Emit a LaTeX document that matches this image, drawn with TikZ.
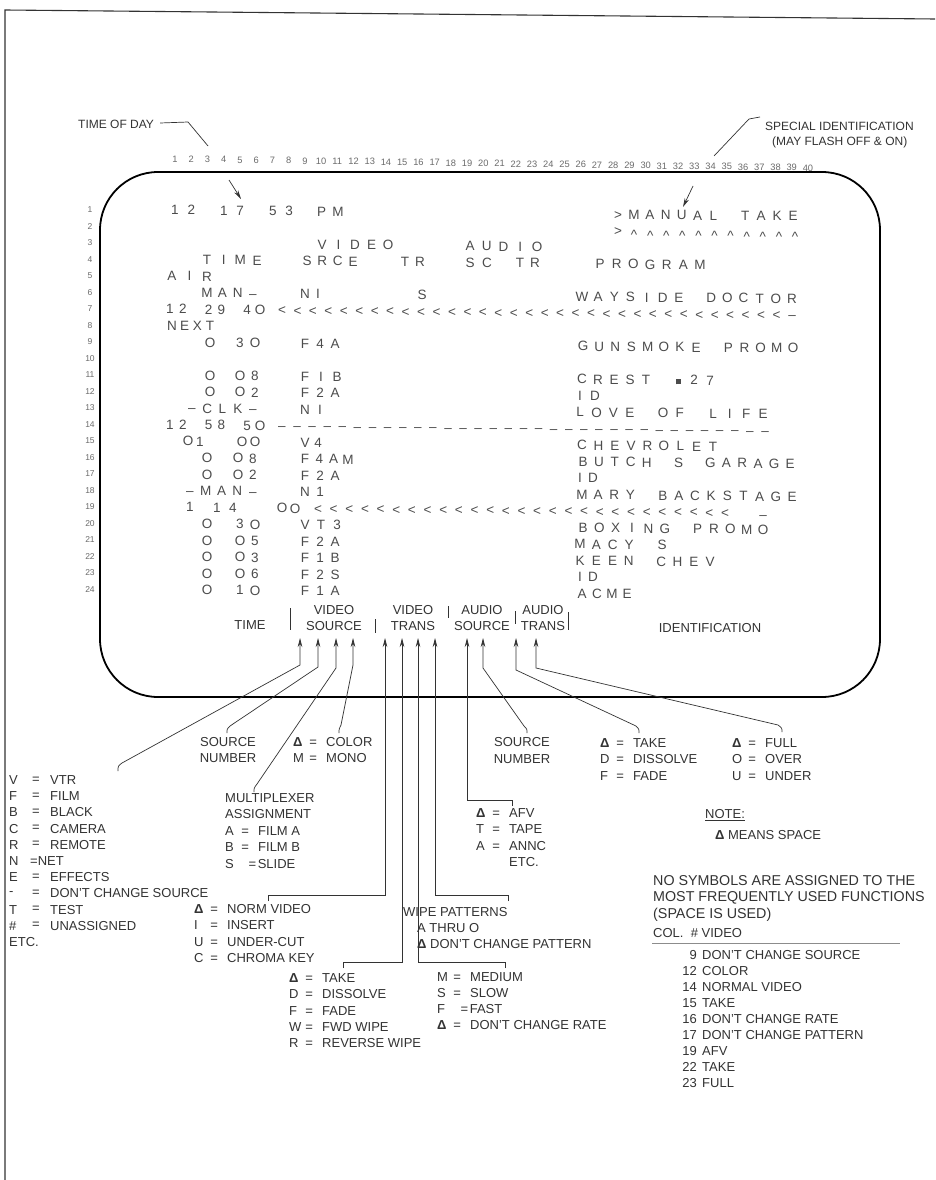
\documentclass[tikz,border=0pt]{standalone}
\usepackage{fontspec}
\setmainfont{Liberation Sans}
\usetikzlibrary{arrows.meta}
\definecolor{ink}{gray}{0.2}
\definecolor{scrink}{gray}{0.3}
\definecolor{numink}{gray}{0.42}

\ExplSyntaxOn
\fp_new:N \l__scr_step_fp
\int_new:N \l__scr_n_int
\int_new:N \l__scr_i_int
\NewDocumentCommand \scr { m m m m }
  {
    \int_set:Nn \l__scr_n_int { \tl_count:n {#4} }
    \int_compare:nNnTF { \l__scr_n_int } > { 1 }
      { \fp_set:Nn \l__scr_step_fp { (#3 - #2) / (\l__scr_n_int - 1) } }
      { \fp_set:Nn \l__scr_step_fp { 0 } }
    \int_zero:N \l__scr_i_int
    \tl_map_inline:nn {#4}
      {
        \str_if_eq:nnF {##1} { _ }
          {
            \use:e
              {
                \exp_not:N \scrglyph
                  { \fp_eval:n { round( #2 + \l__scr_step_fp * \l__scr_i_int , 2) } }
                  { #1 }
                  { \exp_not:n {##1} }
              }
          }
        \int_incr:N \l__scr_i_int
      }
  }
\NewDocumentCommand \scrsym { m }
  {
    \str_case:nnF {#1}
      {
        { * } { \raisebox{-4pt}{\textasciicircum} }
        { @ } { \raisebox{0.5pt}{\rule{5pt}{5pt}} }
        { ! } { \raisebox{-2pt}{\textendash} }
        { - } { \textendash }
      }
      {#1}
  }
\ExplSyntaxOff

\newcommand\scrglyph[3]{\node[scr] at ({#1},{210+16.5*(#2-1)+4.8+0.01*(#1-175)}) {\scrsym{#3}};}
\newcommand\Dlt{\textbf{Δ}}
\newcommand\kv[2]{\makebox[13.5pt][l]{#1}\makebox[13pt][c]{=}\hspace{6.5pt}#2}
\newcommand\kvt[2]{\makebox[13.5pt][l]{#1}\hspace{10pt}=\hspace{1.5pt}#2}

\begin{document}
\begin{tikzpicture}[x=1pt,y=-1pt,
  lbl/.style={font=\fontsize{13}{16.5}\selectfont, text=ink, inner sep=0pt},
  list/.style={lbl, align=left, anchor=north west, font=\fontsize{13}{16.3}\selectfont},
  scr/.style={font=\fontsize{13.5}{16}\selectfont, text=scrink, inner sep=0pt, anchor=base},
  num/.style={font=\fontsize{9.3}{11}\selectfont, text=numink, inner sep=0pt},
  lead/.style={draw=ink, line width=0.7pt},
  arr/.style={lead, -{Stealth[length=9pt,width=4.5pt]}},
  sep/.style={draw=ink, line width=0.7pt},
  small/.style={font=\fontsize{12}{14}\selectfont, text=ink, inner sep=0pt}]
\useasboundingbox (0,0) rectangle (935,1180);
\fill[white] (0,0) rectangle (935,1180);

% outer frame
\draw[line width=1.1pt, black!80] (5,1180) -- (5,10) -- (935,19);

% screen
\node[draw=black, line width=1.8pt, rounded corners=58pt, minimum width=780pt, minimum height=525pt, inner sep=0pt] (screen) at (490,434.5) {};

% column numbers and row numbers
\foreach \n in {1,...,40}
  \node[num] (c\n) at ({175+16.23*(\n-1)},{159+0.014*16.23*(\n-1)}) {\n};
\foreach \r in {1,...,24}
  \node[num, font=\fontsize{8.5}{10}\selectfont] (r\r) at (90,{210+16.5*(\r-1)}) {\r};

% top labels
\node[small, anchor=west] (tod) at (78,124) {TIME OF DAY};
\coordinate (todA) at (188,122);
\coordinate (todB) at (208,146);
\draw[lead] (tod.east) ++(6,-1) -- (todA) -- (todB);
\coordinate (todC) at (229,180);
\coordinate (todD) at (241,199);
\draw[arr] (todC) -- (todD);

\node[small, anchor=west] (sid) at (765,126) {SPECIAL IDENTIFICATION};
\node[small, anchor=west] (sid2) at (772,142) {(MAY FLASH OFF \& ON)};
\coordinate (sidA) at (760,117);
\coordinate (sidB) at (749,119);
\coordinate (sidC) at (714,156);
\draw[lead] (sidA) -- (sidB) -- (sidC);
\coordinate (sidD) at (693,186);
\coordinate (sidE) at (683,207);
\draw[arr] (sidD) -- (sidE);

% screen text
\scr{1}{175}{338}{12_17_53_PM}
\scr{1}{618}{793}{>MANUAL_TAKE}
\scr{2}{618}{795}{>***********}
\scr{3}{322}{388}{VIDEO}
\scr{3}{470}{537}{AUDIO}
\scr{4}{207}{257}{TIME}
\scr{4}{307}{353}{SRCE}
\scr{4}{405}{420}{TR}
\scr{4}{470}{487}{SC}
\scr{4}{520}{535}{TR}
\scr{4}{600}{700}{PROGRAM}
\scr{5}{172}{207}{AIR}
\scr{6}{207}{253}{MAN-}
\scr{6}{305}{318}{NI}
\scr{6}{422}{422}{S}
\scr{6}{582}{792}{WAYSIDE_DOCTOR}
\scr{7}{170}{260}{12_29_4O}
\scr{7}{282}{792}{<<<<<<<<<<<<<<<<<<<<<<<<<<<<<<<<<-}
\scr{8}{172}{210}{NEXT}
\scr{9}{210}{210}{O}
\scr{9}{240}{255}{3O}
\scr{9}{305}{335}{F4A}
\scr{9}{583}{793}{GUNSMOKE_PROMO}
\scr{11}{210}{210}{O}
\scr{11}{240}{255}{O8}
\scr{11}{305}{337}{FIB}
\scr{11}{582}{710}{CREST_@27}
\scr{12}{210}{210}{O}
\scr{12}{240}{255}{O2}
\scr{12}{305}{335}{F2A}
\scr{12}{580}{595}{ID}
\scr{13}{192}{253}{-CLK-}
\scr{13}{305}{320}{NI}
\scr{13}{580}{763}{LOVE_OF_LIFE}
\scr{14}{170}{260}{12_58_5O}
\scr{14}{282}{765}{---------------------------------}
\scr{15}{188}{200}{O1}
\scr{15}{242}{255}{OO}
\scr{15}{305}{318}{V4}
\scr{15}{582}{713}{CHEVROLET}
\scr{16}{207}{207}{O}
\scr{16}{238}{253}{O8}
\scr{16}{305}{348}{F4AM}
\scr{16}{583}{790}{BUTCH_S_GARAGE}
\scr{17}{207}{207}{O}
\scr{17}{238}{253}{O2}
\scr{17}{305}{335}{F2A}
\scr{17}{580}{593}{ID}
\scr{18}{190}{253}{-MAN-}
\scr{18}{305}{320}{N1}
\scr{18}{582}{792}{MARY_BACKSTAGE}
\scr{19}{190}{190}{1}
\scr{19}{217}{233}{14}
\scr{19}{282}{295}{OO}
\scr{19}{318}{725}{<<<<<<<<<<<<<<<<<<<<<<<<<<<}
\scr{19}{763}{763}{!}
\scr{20}{207}{207}{O}
\scr{20}{240}{255}{3O}
\scr{20}{305}{337}{VT3}
\scr{20}{583}{763}{BOXING_PROMO}
\scr{21}{207}{207}{O}
\scr{21}{240}{255}{O5}
\scr{21}{305}{335}{F2A}
\scr{21}{580}{662}{MACY_S}
\scr{22}{207}{207}{O}
\scr{22}{240}{255}{O3}
\scr{22}{305}{335}{F1B}
\scr{22}{580}{710}{KEEN_CHEV}
\scr{23}{207}{207}{O}
\scr{23}{240}{255}{O6}
\scr{23}{305}{335}{F2S}
\scr{23}{580}{593}{ID}
\scr{24}{207}{207}{O}
\scr{24}{240}{255}{1O}
\scr{24}{305}{335}{F1A}
\scr{24}{582}{627}{ACME}

% column headers inside the screen
\node[lbl] (hTime) at (250,625) {TIME};
\node[lbl, align=center] (hVS) at (334,618) {VIDEO\\SOURCE};
\node[lbl, align=center] (hVT) at (413,618) {VIDEO\\TRANS};
\node[lbl, align=center] (hAS) at (482,618) {AUDIO\\SOURCE};
\node[lbl, align=center] (hAT) at (543,618) {AUDIO\\TRANS};
\node[lbl] (hId) at (710,628) {IDENTIFICATION};
\draw[sep] (290,608) -- (290,630);
\draw[sep] (375,619) -- (375,633);
\draw[sep] (448,606) -- (448,618);
\draw[sep] (515,611) -- (515,624);
\draw[sep] (568,612) -- (568,630);

% arrow tips
\coordinate (t1) at (300,638);
\coordinate (t2) at (318,638);
\coordinate (t3) at (336,638);
\coordinate (t4) at (353,638);
\coordinate (t5) at (385,638);
\coordinate (t6) at (402,638);
\coordinate (t7) at (418,638);
\coordinate (t8) at (435,638);
\coordinate (t9) at (467,638);
\coordinate (t10) at (483,638);
\coordinate (t11) at (516,638);
\coordinate (t12) at (536,638);
% free ends
\coordinate (h1) at (118,771);
\coordinate (h2) at (227,733);
\coordinate (h3) at (254,792);
\coordinate (h4) at (339,733);
\coordinate (h5) at (268,901);
\coordinate (h6) at (343,968);
\coordinate (h7) at (505,968);
\coordinate (h8) at (508,901);
\coordinate (h9) at (512,806);
\coordinate (h10) at (527,733);
\coordinate (h11) at (639,733);
\coordinate (h12) at (782,732);

\draw[arr] (h1) .. controls (118,766) .. (122,763) -- (300,665) -- (t1);
\draw[arr] (h2) .. controls (227,729) .. (230,726) -- (318,667) -- (t2);
\draw[arr] (h3) .. controls (254,788) .. (257,784) -- (336,668) -- (t3);
\draw[arr] (h4) .. controls (339,729) .. (341,725) -- (353,665) -- (t4);
\draw[arr] (h5) -- (268,895) -- (385,895) -- (t5);
\draw[arr] (h6) -- (343,962) -- (402,962) -- (t6);
\draw[arr] (h7) -- (505,962) -- (418,962) -- (t7);
\draw[arr] (h8) -- (508,895) -- (435,895) -- (t8);
\draw[arr] (h9) -- (512,800) -- (467,800) -- (t9);
\draw[arr] (h10) .. controls (527,729) .. (524,726) -- (483,668) -- (t10);
\draw[arr] (h11) .. controls (639,729) .. (636,726) -- (516,670) -- (t11);
\draw[arr] (h12) .. controls (782,728) .. (778,725) -- (536,668) -- (t12);

% legends
\node[lbl, align=center] (srcnum1) at (228,750) {SOURCE\\NUMBER};
\node[list] (colr) at (293,737.3) {\kv{\Dlt}{COLOR}\\\kv{M}{MONO}};
\node[list, font=\fontsize{13}{16.5}\selectfont] (mux) at (225,793.3) {MULTIPLEXER\\ASSIGNMENT\\\kv{A}{FILM A}\\\kv{B}{FILM B}\\\kvt{S}{SLIDE}};

\foreach \s/\w [count=\i] in {V/VTR, F/FILM, B/BLACK, C/CAMERA, R/REMOTE, E/EFFECTS, -/DON'T CHANGE SOURCE, T/TEST, \#/UNASSIGNED} {
  \pgfmathsetmacro\yy{780+16.2*(\i-1)+(\i>5?16.2:0)}
  \node[lbl, anchor=west] (ls\i) at (9,\yy) {\s};
  \node[lbl] (le\i) at (36,\yy) {=};
  \node[lbl, anchor=west] (lw\i) at (50,\yy) {\w};
}
\node[lbl, anchor=west] (lsN) at (9,861) {N};
\node[lbl, anchor=west] (lwN) at (30,861) {=NET};
\node[lbl, anchor=west] (letc) at (9,942) {ETC.};

\node[list] (keyl) at (194,904.3) {\kv{\Dlt}{NORM VIDEO}\\\kv{I}{INSERT}\\\kv{U}{UNDER-CUT}\\\kv{C}{CHROMA KEY}};
\node[list] (tranl) at (289,973.3) {\kv{\Dlt}{TAKE}\\\kv{D}{DISSOLVE}\\\kv{F}{FADE}\\\kv{W}{FWD WIPE}\\\kv{R}{REVERSE WIPE}};
\node[list, font=\fontsize{13}{16}\selectfont] (wipe) at (403,907.3) {WIPE PATTERNS\\\hspace{14pt}A THRU O\\\hspace{14pt}\Dlt{} DON'T CHANGE PATTERN};
\node[list, font=\fontsize{13}{16}\selectfont] (rate) at (437,972.3) {\kv{M}{MEDIUM}\\\kv{S}{SLOW}\\\kvt{F}{FAST}\\\kv{\Dlt}{DON'T CHANGE RATE}};

\node[lbl, align=center] (srcnum2) at (522,750.5) {SOURCE\\NUMBER};
\node[list] (afv) at (476,808.3) {\kv{\Dlt}{AFV}\\\kv{T}{TAPE}\\\kv{A}{ANNC}\\\hspace{33pt}ETC.};
\node[list] (take2) at (600,738.3) {\kv{\Dlt}{TAKE}\\\kv{D}{DISSOLVE}\\\kv{F}{FADE}};
\node[list] (full) at (732,738.3) {\kv{\Dlt}{FULL}\\\kv{O}{OVER}\\\kv{U}{UNDER}};

\node[lbl, anchor=west] (note) at (705,815) {\underline{NOTE:}};
\node[lbl, anchor=west] (means) at (715,835) {\Dlt{} MEANS SPACE};
\node[list, font=\fontsize{14.3}{16.5}\selectfont] (nosym) at (653,875) {NO SYMBOLS ARE ASSIGNED TO THE\\MOST FREQUENTLY USED FUNCTIONS\\(SPACE IS USED)};
\node[lbl, anchor=west] (colhdr) at (653,933) {COL.\ \ \# VIDEO};
\draw[draw=black!45, line width=0.6pt] (652,943) -- (900,943);
\foreach \n/\t [count=\i] in {9/DON'T CHANGE SOURCE, 12/COLOR, 14/NORMAL VIDEO, 15/TAKE, 16/DON'T CHANGE RATE, 17/DON'T CHANGE PATTERN, 19/AFV, 22/TAKE, 23/FULL} {
  \node[lbl, anchor=east] (cn\i) at (697,{955+16*(\i-1)}) {\n};
  \node[lbl, anchor=west] (ct\i) at (702,{955+16*(\i-1)}) {\t};
}
\end{tikzpicture}
\end{document}
